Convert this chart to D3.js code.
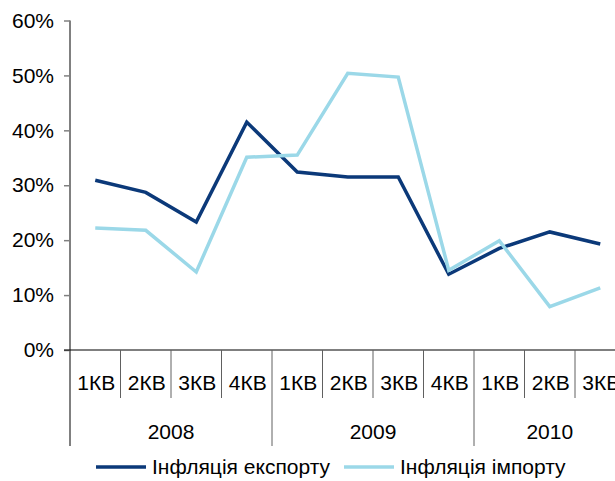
<!DOCTYPE html>
<html>
<head>
<meta charset="utf-8">
<script src="https://cdn.jsdelivr.net/npm/d3@7"></script>
<style>
  html, body { margin: 0; padding: 0; background: #fff; overflow: hidden; }
  svg { display: block; font-family: "Liberation Sans", Arial, sans-serif; }
</style>
</head>
<body>
<svg id="chart" width="615" height="481"></svg>
<script>
// ---- data ----
const quarters = ["1КВ","2КВ","3КВ","4КВ","1КВ","2КВ","3КВ","4КВ","1КВ","2КВ","3КВ"];
const years = ["2008","2009","2010"];
const yearSpans = [4, 4, 3];
const exportInflation = [30.9, 28.7, 23.3, 41.5, 32.4, 31.5, 31.5, 13.8, 18.5, 21.5, 19.3];
const importInflation = [22.2, 21.8, 14.2, 35.1, 35.5, 50.4, 49.7, 14.5, 19.9, 7.9, 11.3];
const yTicks = [0, 10, 20, 30, 40, 50, 60];
const seriesNames = ["Інфляція експорту", "Інфляція імпорту"];
const seriesColors = ["#0b3979", "#9bd8e8"];

const svg = d3.select("#chart");
const mLeft = 70, mRight = 625.5, mTop = 20.5, mBottom = 350;
const fs = 21;

const x = d3.scaleBand().domain(d3.range(quarters.length)).range([mLeft, mRight]).padding(0);
const y = d3.scaleLinear().domain([0, 60]).range([mBottom, mTop]);

// y axis
const yAxis = svg.append("g").attr("transform", `translate(${mLeft},0)`)
  .call(d3.axisLeft(y).tickValues(yTicks).tickSize(6).tickPadding(10).tickFormat(d => d + "%"));
yAxis.select(".domain").remove();
yAxis.selectAll(".tick line").attr("stroke", "#808080").attr("stroke-width", 1.5);
yAxis.selectAll(".tick text").attr("font-size", fs).attr("fill", "#000")
  .attr("font-family", "Liberation Sans, Arial, sans-serif");
svg.append("line").attr("x1", mLeft).attr("x2", mLeft).attr("y1", mTop).attr("y2", 446)
  .attr("stroke", "#808080").attr("stroke-width", 2);

// x axis baseline
svg.append("line").attr("x1", mLeft - 6).attr("x2", 615).attr("y1", mBottom).attr("y2", mBottom)
  .attr("stroke", "#000").attr("stroke-width", 1.2);

// quarter separators
const bw = x.bandwidth();
let yearStarts = [0];
yearSpans.forEach((s, i) => yearStarts.push(yearStarts[i] + s));
quarters.forEach((q, i) => {
  if (i === 0) return;
  const isYear = yearStarts.includes(i);
  svg.append("line").attr("x1", x(i)).attr("x2", x(i))
    .attr("y1", mBottom).attr("y2", isYear ? 446 : 398)
    .attr("stroke", "#606060").attr("stroke-width", 1);
});
// quarter labels
svg.append("g").selectAll("text").data(quarters).join("text")
  .attr("x", (d, i) => x(i) + bw / 2 + 1)
  .attr("y", 390)
  .attr("text-anchor", "middle")
  .attr("font-size", fs)
  .attr("fill", "#000")
  .text(d => d);
// year labels
svg.append("g").selectAll("text").data(years).join("text")
  .attr("x", (d, i) => x(yearStarts[i]) + yearSpans[i] * bw / 2)
  .attr("y", 439)
  .attr("text-anchor", "middle")
  .attr("font-size", fs)
  .attr("fill", "#000")
  .text(d => d);

// lines
const line = d3.line().x((d, i) => x(i) + bw / 2).y(d => y(d));
[exportInflation, importInflation].forEach((s, k) => {
  svg.append("path").datum(s).attr("d", line).attr("fill", "none")
    .attr("stroke", seriesColors[k]).attr("stroke-width", 3.5)
    .attr("stroke-linejoin", "miter");
});

// legend
const legendPos = [[96, 152], [344, 400]];
seriesNames.forEach((n, k) => {
  svg.append("line").attr("x1", legendPos[k][0]).attr("x2", legendPos[k][0] + 50)
    .attr("y1", 467).attr("y2", 467).attr("stroke", seriesColors[k]).attr("stroke-width", 3.5);
  svg.append("text").attr("x", legendPos[k][1]).attr("y", 474).attr("font-size", fs)
    .attr("fill", "#000").text(n);
});
</script>
</body>
</html>
